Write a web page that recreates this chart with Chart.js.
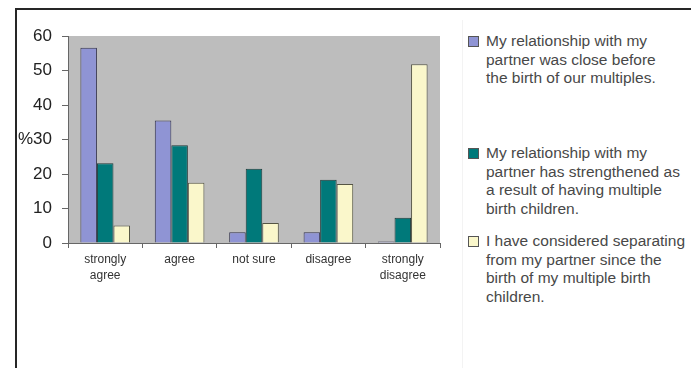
<!DOCTYPE html>
<html>
<head>
<meta charset="utf-8">
<script src="https://cdn.jsdelivr.net/npm/chart.js@4"></script>
<style>
  body { margin: 0; background: #fff; font-family: "Liberation Sans", Arial, sans-serif; }
  #frame { position: absolute; left: 15px; top: 8px; width: 700px; height: 400px;
           border-left: 2px solid #262626; border-top: 2px solid #262626; }
  #wrap { position: absolute; left: 0; top: 0; width: 460px; height: 368px; }
  #divider { position: absolute; left: 462px; top: 20px; width: 0; height: 348px; border-left: 1px solid #f3f3f3; }
  .item { position: absolute; left: 468px; color: #484848; font-size: 15.5px; line-height: 18.5px; }
  .item .box { position: absolute; left: 0; width: 9px; height: 9px; border: 1px solid #555; }
  .item .txt { position: absolute; left: 18px; white-space: nowrap; }
</style>
</head>
<body>
<div id="frame"></div>
<div id="divider"></div>
<div id="wrap"><canvas id="chart1"></canvas></div>
<div id="legend"></div>
<script>
  // answer categories
  let categories = [['strongly', 'agree'], 'agree', 'not sure', 'disagree', ['strongly', 'disagree']];

  // percentages per statement
  let closeBefore = [56.6, 35.5, 3.1, 3.1, 0.4];
  let strengthened = [23.1, 28.3, 21.5, 18.3, 7.3];
  let consideredSeparating = [5.1, 17.5, 5.8, 17.1, 51.8];

  let yTicks = [0, 10, 20, 30, 40, 50, 60];

  let legendLines = [
    ['My relationship with my', 'partner was close before', 'the birth of our multiples.'],
    ['My relationship with my', 'partner has strengthened as', 'a result of having multiple', 'birth children.'],
    ['I have considered separating', 'from my partner since the', 'birth of my multiple birth', 'children.']
  ];
  let legendTops = [32, 144, 232];

  const plotBackground = {
    id: 'plotBackground',
    beforeDraw(chart) {
      const a = chart.chartArea;
      const c = chart.ctx;
      c.save();
      c.fillStyle = '#bdbdbd';
      c.fillRect(a.left, a.top, a.right - a.left, a.bottom - a.top);
      c.restore();
    }
  };

  var ctx = document.getElementById('chart1').getContext('2d');

  var chart1 = new Chart(ctx, {
    type: 'bar',
    data: {
      labels: categories,
      datasets: [{
        label: legendLines[0].join(' '),
        data: closeBefore,
        backgroundColor: '#8f94d4',
        borderColor: '#33334d',
        borderWidth: 1
      },
      {
        label: legendLines[1].join(' '),
        data: strengthened,
        backgroundColor: '#00797a',
        borderColor: '#1f3a3a',
        borderWidth: 1
      },
      {
        label: legendLines[2].join(' '),
        data: consideredSeparating,
        backgroundColor: '#faf7cb',
        borderColor: '#555544',
        borderWidth: 1
      }]
    },
    plugins: [plotBackground],
    options: {
      responsive: true,
      maintainAspectRatio: false,
      animation: false,
      categoryPercentage: 0.667,
      barPercentage: 1.0,
      layout: {
        padding: { left: 10, top: 36, right: 20, bottom: 85 }
      },
      plugins: {
        legend: { display: false },
        tooltip: { enabled: false }
      },
      scales: {
        x: {
          afterFit: function(scale) { scale.height = 40; },
          grid: {
            display: true,
            drawOnChartArea: false,
            drawTicks: true,
            tickLength: 5,
            color: '#666'
          },
          border: { display: true, color: '#666', width: 1 },
          ticks: {
            color: '#333',
            padding: 4,
            maxRotation: 0,
            autoSkip: false,
            font: { family: 'Liberation Sans', size: 12, lineHeight: 1.33 }
          }
        },
        y: {
          min: 0,
          max: 60,
          afterFit: function(scale) { scale.width = 58; },
          afterBuildTicks: function(scale) {
            scale.ticks = yTicks.map(v => ({ value: v }));
          },
          grid: {
            display: true,
            drawOnChartArea: false,
            drawTicks: true,
            tickLength: 6,
            color: '#666'
          },
          border: { display: true, color: '#666', width: 1 },
          ticks: {
            color: '#222',
            padding: 10,
            font: { family: 'Liberation Sans', size: 17 },
            callback: function(value) {
              return value === 30 ? '%30' : value;
            }
          }
        }
      }
    }
  });

  // html legend built from the chart's datasets
  let legendHtml = '';
  chart1.data.datasets.forEach(function(ds, i) {
    legendHtml += '<div class="item" style="top:' + legendTops[i] + 'px">' +
      '<div class="box" style="top:4px;background:' + ds.backgroundColor + '"></div>' +
      '<div class="txt">' + legendLines[i].join('<br>') + '</div></div>';
  });
  document.getElementById('legend').innerHTML = legendHtml;
</script>
</body>
</html>
